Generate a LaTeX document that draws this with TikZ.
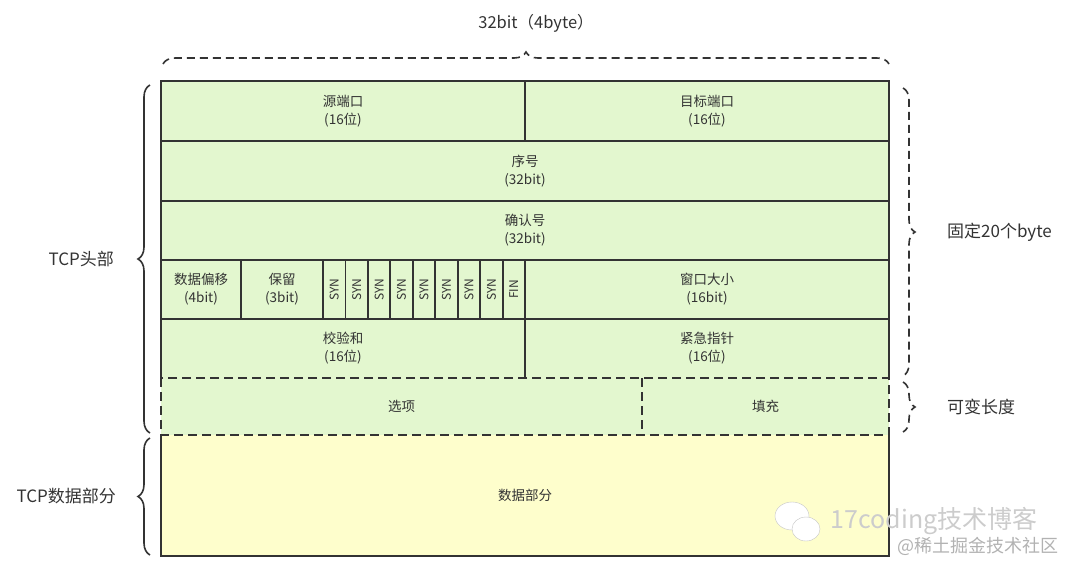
\documentclass[tikz,border=0pt]{standalone}
\usepackage{fontspec}
\setmainfont{Noto Sans CJK SC}
\usepackage{tikz}
\usetikzlibrary{decorations.pathreplacing, positioning}
\definecolor{CellGreen}{HTML}{E3F7CF}
\definecolor{DataYellow}{HTML}{FEFECC}
\definecolor{InkGray}{HTML}{333333}

\begin{document}
\begin{tikzpicture}[
        x=1pt, y=-1pt,
        cell/.style={fill=CellGreen, inner sep=0pt, outer sep=0pt, align=center, text=InkGray, font=\fontsize{13.5}{18}\selectfont},
        flag/.style={cell, minimum width=22.45pt, minimum height=59pt, font=\fontsize{12}{12}\selectfont},
        rule/.style={draw=InkGray, line width=1.8pt},
        gap/.style={rule, dash pattern=on 9pt off 5pt},
        lbrace/.style={draw=InkGray, line width=1.6pt, decorate, decoration={brace, amplitude=12pt}},
        rbrace/.style={lbrace, dash pattern=on 8pt off 5pt},
        tag/.style={text=InkGray, font=\fontsize{17}{20}\selectfont}
    ]
    \useasboundingbox (0,0) rectangle (1080,574);

    % Header rows
    \node[cell, minimum width=364pt, minimum height=60pt] (sport) at (343,111) {源端口\\(16位)};
    \node[cell, minimum width=364pt, minimum height=60pt] (dport) at (707,111) {目标端口\\(16位)};
    \node[cell, minimum width=728pt, minimum height=60pt] (seq) at (525,171) {序号\\(32bit)};
    \node[cell, minimum width=728pt, minimum height=59pt] (ack) at (525,230.5) {确认号\\(32bit)};
    \node[cell, minimum width=80pt, minimum height=59pt] (off) at (201,289.5) {数据偏移\\(4bit)};
    \node[cell, minimum width=82pt, minimum height=59pt] (res) at (282,289.5) {保留\\(3bit)};
    \foreach \name [count=\i] in {SYN,SYN,SYN,SYN,SYN,SYN,SYN,SYN,FIN}
        \node[flag] (f\i) at ({323+22.45*(\i-0.5)},289.5) {\rotatebox{90}{\name}};
    \node[cell, minimum width=364pt, minimum height=59pt] (win) at (707,289.5) {窗口大小\\(16bit)};
    \node[cell, minimum width=364pt, minimum height=59pt] (chk) at (343,348.5) {校验和\\(16位)};
    \node[cell, minimum width=364pt, minimum height=59pt] (urg) at (707,348.5) {紧急指针\\(16位)};

    % Options and data
    \node[cell, minimum width=481pt, minimum height=57pt] (opt) at (401.5,406.5) {选项};
    \node[cell, minimum width=247pt, minimum height=57pt] (pad) at (765.5,406.5) {填充};
    \node[cell, fill=DataYellow, minimum width=728pt, minimum height=121pt] (data) at (525,495.5) {数据部分};

    % Grid lines
    \draw[rule] (chk.south west) -- (sport.north west) -- (dport.north east) -- (urg.south east);
    \foreach \n in {seq,ack}
        \draw[rule] (\n.north west) -- (\n.north east) (\n.south west) -- (\n.south east);
    \draw[rule] (chk.north west) -- (urg.north east);
    \draw[rule] (sport.north east) -- (sport.south east) (chk.north east) -- (chk.south east) (off.north east) -- (off.south east);
    \foreach \i in {1,...,9}
        \draw[rule] (f\i.north west) -- (f\i.south west);
    \draw[rule] (f9.north east) -- (f9.south east);
    \draw[gap] (opt.north west) rectangle (pad.south east);
    \draw[gap] (opt.north east) -- (opt.south east);
    \draw[rule] (data.north west) -- (data.south west) -- (data.south east) -- (data.north east);

    % Braces
    \coordinate (wL) at (163,64);
    \coordinate (wR) at (889,64);
    \coordinate (hT) at (150,85);
    \coordinate (hB) at (150,433);
    \coordinate (dT) at (150,438);
    \coordinate (dB) at (150,555);
    \coordinate (fT) at (903,88);
    \coordinate (fB) at (903,376);
    \coordinate (vT) at (903,382);
    \coordinate (vB) at (903,432);
    \draw[rbrace] (wL) -- (wR) node[tag, midway, above=28pt, xshift=10pt, font=\fontsize{16.5}{18}\selectfont] (wlab) {32bit（4byte）};
    \draw[lbrace] (hB) -- (hT) node[tag, midway, left=32pt] (hlab) {TCP头部};
    \draw[lbrace] (dB) -- (dT) node[tag, midway, left=30pt] (dlab) {TCP数据部分};
    \draw[rbrace] (fT) -- (fB) node[tag, midway, right=40pt] (flab) {固定20个byte};
    \draw[rbrace] (vT) -- (vB) node[tag, midway, right=40pt] (vlab) {可变长度};

    % Watermark
    \draw[gray!45, fill=white] (792,516) ellipse (17pt and 14pt);
    \draw[gray!45, fill=white] (806,529) ellipse (14pt and 12pt);
    \node[font=\fontsize{25}{25}\selectfont, text=gray!40] (wm) at (934,521) {17coding技术博客};
    \node[font=\fontsize{18}{18}\selectfont, text=gray!60, anchor=east] (wm2) at (1062,546) {@稀土掘金技术社区};
\end{tikzpicture}
\end{document}
